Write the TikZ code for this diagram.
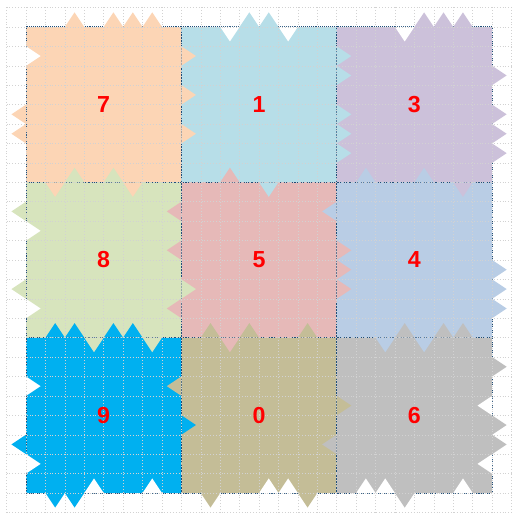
\documentclass[tikz,border=0pt]{standalone}
\usepackage{fontspec}
\setmainfont{Liberation Sans}
\usepackage{tikz}
\usetikzlibrary{calc, %for relative coord calculations
                positioning}

\definecolor{cSeven}{HTML}{FCD5B5}
\definecolor{cOne}{HTML}{B7DEE8}
\definecolor{cThree}{HTML}{CCC1DA}
\definecolor{cEight}{HTML}{D7E4BD}
\definecolor{cFive}{HTML}{E6B9B8}
\definecolor{cFour}{HTML}{B9CDE5}
\definecolor{cNine}{HTML}{00B0F0}
\definecolor{cZero}{HTML}{C4BD97}
\definecolor{cSix}{HTML}{BFBFBF}
\definecolor{cBorder}{HTML}{1F4E79}

\begin{document}
\begin{tikzpicture}[x=0.5cm, y=0.5cm,
                    num/.style={text=red, font=\bfseries\fontsize{17}{17}\selectfont},
                    gridline/.style={gray!35, line width=0.35pt, dash pattern=on 0.5pt off 1.6pt},
                    cellborder/.style={cBorder, line width=0.6pt, dash pattern=on 0.7pt off 0.7pt}
                    ]
    \useasboundingbox (-1.339,-1.596) rectangle (25.386,25.386);

    % SQUARES %
    \foreach \col/\x/\y in {cSeven/0/16, cOne/8/16, cThree/16/16,
                            cEight/0/8, cFive/8/8, cFour/16/8,
                            cNine/0/0, cZero/8/0, cSix/16/0}{
    \fill[\col] (\x,\y) rectangle ++(8,8);
    }
    \foreach \x/\y in {0/16,8/16,16/16,0/8,8/8,16/8,0/0,8/0,16/0}
    \draw[cellborder] (\x,\y) rectangle ++(8,8);

    % TEETH ALONG ROWS %
    \foreach \x/\y/\d/\col in {2.5/24/1/cSeven, 4.5/24/1/cSeven, 5.5/24/1/cSeven, 6.5/24/1/cSeven,
        10.5/24/-1/white, 11.5/24/1/cOne, 12.5/24/1/cOne, 13.5/24/-1/white,
        19.5/24/-1/white, 20.5/24/1/cThree, 21.5/24/1/cThree, 22.5/24/1/cThree,
        1.5/16/-1/cSeven, 5.5/16/-1/cSeven, 2.5/16/1/cEight, 4.5/16/1/cEight,
        10.5/16/1/cFive, 12.5/16/-1/cOne,
        17.5/16/1/cFour, 20.5/16/1/cFour, 22.5/16/-1/cThree,
        1.5/8/1/cNine, 2.5/8/1/cNine, 4.5/8/1/cNine, 5.5/8/1/cNine, 3.5/8/-1/cEight, 6.5/8/-1/cEight,
        9.5/8/1/cZero, 11.5/8/1/cZero, 14.5/8/1/cZero, 10.5/8/-1/cFive,
        18.5/8/-1/cFour, 20.5/8/-1/cFour, 19.5/8/1/cSix, 21.5/8/1/cSix, 22.5/8/1/cSix,
        1.5/0/-1/cNine, 2.5/0/-1/cNine, 3.5/0/1/white, 6.5/0/1/white,
        9.5/0/-1/cZero, 14.5/0/-1/cZero, 12.5/0/1/white, 13.5/0/1/white,
        17.5/0/1/white, 18.5/0/1/white, 22.5/0/1/white, 19.5/0/-1/cSix}
    \fill[\col] (\x-0.5,\y) -- (\x,\y+0.75*\d) -- (\x+0.5,\y) -- cycle;

    % TEETH ALONG COLUMNS %
    \foreach \y/\x/\d/\col in {22.5/0/1/white, 19.5/0/-1/cSeven, 18.5/0/-1/cSeven,
        14.5/0/-1/cEight, 13.5/0/1/white, 10.5/0/-1/cEight, 9.5/0/1/white,
        5.5/0/1/white, 2.5/0/-1/cNine, 1.5/0/1/white,
        22.5/8/1/cSeven, 20.5/8/1/cSeven, 18.5/8/1/cSeven,
        10.5/8/1/cEight, 14.5/8/-1/cFive, 12.5/8/-1/cFive, 9.5/8/-1/cFive,
        3.5/8/1/cNine, 5.5/8/-1/cZero,
        22.5/16/1/cOne, 21.5/16/1/cOne, 19.5/16/1/cOne, 18.5/16/1/cOne, 17.5/16/1/cOne,
        14.5/16/-1/cFour, 12.5/16/1/cFive, 11.5/16/1/cFive, 10.5/16/1/cFive,
        4.5/16/1/cZero, 2.5/16/-1/cSix,
        21.5/24/1/cThree, 19.5/24/1/cThree, 18.5/24/1/cThree, 17.5/24/1/cThree,
        11.5/24/1/cFour, 10.5/24/1/cFour, 9.5/24/1/cFour,
        6.5/24/1/cSix, 3.5/24/1/cSix, 2.5/24/1/cSix, 4.5/24/-1/white, 1.5/24/-1/white}
    \fill[\col] (\x,\y-0.5) -- (\x+0.75*\d,\y) -- (\x,\y+0.5) -- cycle;

    % GRID %
    \foreach \i in {-1,...,25}{
    \draw[gridline] (\i,-1) -- (\i,25);
    \draw[gridline] (-1,\i) -- (25,\i);
    }

    % NUMBERS %
    \foreach \n/\x/\y in {7/4/20, 1/12/20, 3/20/20, 8/4/12, 5/12/12, 4/20/12, 9/4/4, 0/12/4, 6/20/4}
    \node[num] (n\n) at (\x,\y) {\n};

\end{tikzpicture}
\end{document}
